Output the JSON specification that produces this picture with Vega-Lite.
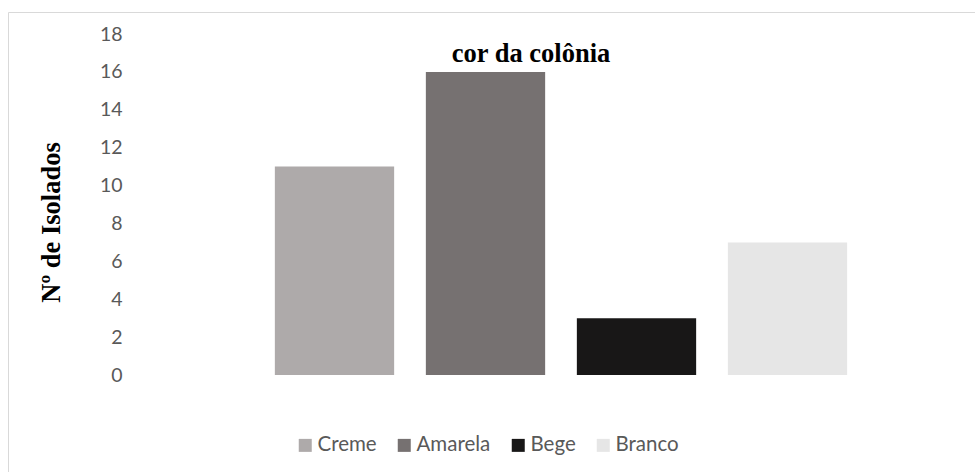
{
  "$schema": "https://vega.github.io/schema/vega-lite/v6.json",
  "width": 1046,
  "height": 480,
  "autosize": {"type": "none"},
  "padding": {"left": 8, "top": 12, "right": 0, "bottom": 0},
  "background": "white",
  "title": {
    "text": "cor da colônia",
    "font": "Liberation Serif",
    "fontSize": 26.5,
    "fontWeight": "bold",
    "color": "black",
    "anchor": "middle",
    "frame": "group",
    "baseline": "alphabetic",
    "offset": -76
  },
  "data": {
    "values": [
      {"cor": "Creme", "isolados": 11},
      {"cor": "Amarela", "isolados": 16},
      {"cor": "Bege", "isolados": 3},
      {"cor": "Branco", "isolados": 7}
    ]
  },
  "mark": {"type": "bar"},
  "encoding": {
    "x": {
      "field": "cor",
      "type": "nominal",
      "sort": null,
      "axis": null,
      "scale": {"range": [251, 855], "paddingInner": 0.21, "paddingOuter": 0.105}
    },
    "y": {
      "field": "isolados",
      "type": "quantitative",
      "scale": {"domain": [0, 18], "range": [363, 22], "nice": false, "zero": true},
      "axis": {
        "title": "Nº de Isolados",
        "titleFont": "Liberation Serif",
        "titleFontSize": 26.5,
        "titleFontWeight": "bold",
        "titleColor": "black",
        "titleAngle": -90,
        "titleAlign": "center",
        "titleBaseline": "middle",
        "titleX": -71,
        "titleY": 210,
        "values": [0, 2, 4, 6, 8, 10, 12, 14, 16, 18],
        "labelFont": "Lato",
        "labelFontSize": 19.5,
        "labelColor": "#595959",
        "labelPadding": 0,
        "ticks": false,
        "tickSize": 0,
        "domain": false,
        "grid": false,
        "offset": -114
      }
    },
    "color": {
      "field": "cor",
      "type": "nominal",
      "sort": null,
      "scale": {
        "domain": ["Creme", "Amarela", "Bege", "Branco"],
        "range": ["#AEAAAA", "#767171", "#181717", "#E6E6E6"]
      },
      "legend": {
        "orient": "none",
        "legendX": 287,
        "legendY": 423,
        "direction": "horizontal",
        "title": null,
        "symbolType": "square",
        "symbolSize": 169,
        "symbolStrokeWidth": 0,
        "labelFont": "Lato",
        "labelFontSize": 20.5,
        "labelColor": "#595959",
        "labelOffset": 2,
        "columnPadding": 17,
        "padding": 0
      }
    }
  },
  "config": {
    "view": {"stroke": "#D9D9D9", "strokeWidth": 1}
  }
}
